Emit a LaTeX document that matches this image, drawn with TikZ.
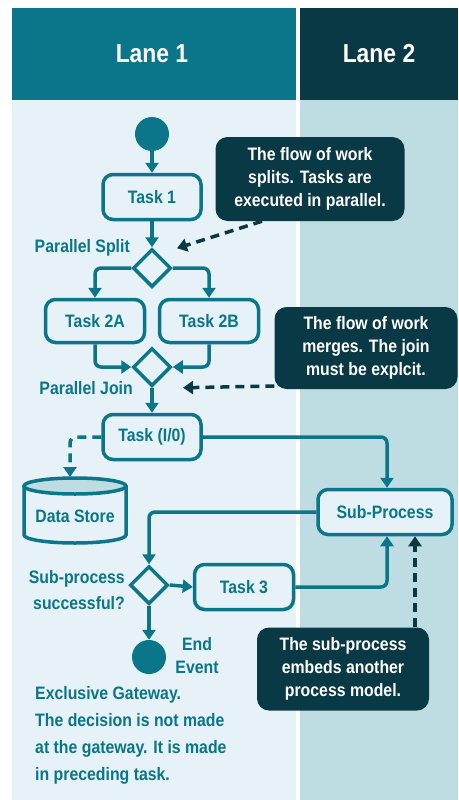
\documentclass[tikz,border=0pt]{standalone}
\usepackage{fontspec}
\setmainfont[FakeStretch=0.88]{Liberation Sans}
\usetikzlibrary{arrows.meta,shapes.geometric,calc}
\definecolor{tealc}{HTML}{0B7589}
\definecolor{darkc}{HTML}{0A3946}
\definecolor{lightbg}{HTML}{E6F2F8}
\definecolor{lanebg}{HTML}{BEDDE2}
\tikzset{
  lw/.style={line width=3.5pt},
  taskbox/.style={draw=tealc, lw, rounded corners=10pt, fill=lightbg, text=tealc,
    font=\bfseries\fontsize{18}{20}\selectfont, inner sep=0pt},
  gate/.style={diamond, aspect=1, draw=tealc, lw, fill=lightbg, minimum width=38pt, minimum height=38pt, inner sep=0pt},
  evt/.style={circle, fill=tealc, minimum size=34pt, inner sep=0pt},
  callout/.style={fill=darkc, rounded corners=12pt, text=white, align=center,
    font=\bfseries\fontsize{18}{23}\selectfont, inner sep=0pt},
  lbl/.style={text=tealc, font=\bfseries\fontsize{18}{26}\selectfont, inner sep=0pt},
  flow/.style={draw=tealc, lw, -{Triangle[length=10pt,width=13pt]}, rounded corners=6pt},
  dflow/.style={flow, dash pattern=on 9pt off 6pt},
  calarrow/.style={draw=darkc, lw, dash pattern=on 9pt off 6pt, -{Triangle[length=10pt,width=13pt]}},
  hdr/.style={text=white, font=\bfseries\fontsize{26}{28}\selectfont, inner sep=0pt}
}
\begin{document}
\begin{tikzpicture}[x=1pt,y=1pt]
\useasboundingbox (0,0) rectangle (458,-800);
\fill[white] (0,0) rectangle (458,-800);
% lanes
\fill[tealc] (12,-8) rectangle (296,-100);
\fill[darkc] (300,-8) rectangle (458,-100);
\fill[lightbg] (12,-100) rectangle (296,-800);
\fill[lanebg] (300,-100) rectangle (458,-800);
\node[hdr] (h1) at (152,-54) {Lane 1};
\node[hdr] (h2) at (379,-54) {Lane 2};
% nodes
\node[evt] (start) at (152,-134) {};
\node[taskbox, minimum width=98pt, minimum height=45pt] (t1) at (152,-197) {Task 1};
\node[gate] (split) at (152,-268) {};
\node[lbl, anchor=east] (lsplit) at (130,-248) {Parallel Split};
\node[taskbox, minimum width=99pt, minimum height=43pt] (t2a) at (95,-321) {Task 2A};
\node[taskbox, minimum width=99pt, minimum height=43pt] (t2b) at (209,-321) {Task 2B};
\node[gate] (join) at (152,-367) {};
\node[lbl, anchor=east] (ljoin) at (133,-388) {Parallel Join};
\node[taskbox, minimum width=98pt, minimum height=45pt] (tio) at (152,-437) {Task (I/0)};
% data store
\draw[tealc, lw, fill=lightbg] (24,-486) -- (24,-535) arc[start angle=180,end angle=360,x radius=51,y radius=8] -- (126,-486);
\draw[tealc, lw, fill=lanebg] (75,-486) ellipse [x radius=51, y radius=8];
\node[lbl] (ds) at (75,-516) {Data Store};
\coordinate (dstop) at (70,-477);
\node[taskbox, minimum width=134pt, minimum height=45pt] (sp) at (385,-512) {Sub-Process};
\node[gate] (dec) at (149,-585) {};
\node[lbl, anchor=east, align=right] (ldec) at (125,-590) {Sub-process\\successful?};
\node[taskbox, minimum width=99pt, minimum height=45pt] (t3) at (244,-587) {Task 3};
\node[evt] (end) at (149,-657) {};
\node[lbl, align=center, font=\bfseries\fontsize{18}{23}\selectfont] (lend) at (197,-656) {End\\Event};
\node[lbl, anchor=north west, align=left, font=\bfseries\fontsize{18}{27}\selectfont] (note) at (35,-686) {Exclusive Gateway.\\The decision is not made\\at the gateway. It is made\\in preceding task.};
% callouts
\node[callout, minimum width=189pt, minimum height=84pt] (c1) at (310,-179) {The flow of work\\splits. Tasks are\\executed in parallel.};
\node[callout, minimum width=183pt, minimum height=82pt] (c2) at (366,-348) {The flow of work\\merges. The join\\must be explcit.};
\node[callout, minimum width=172pt, minimum height=83pt] (c3) at (343,-669) {The sub-process\\embeds another\\process model.};
% flows
\draw[flow] (start) -- (t1);
\draw[flow] (t1) -- (split);
\draw[flow] (split.west) -| (t2a.north);
\draw[flow] (split.east) -| (t2b.north);
\draw[flow] (t2a.south) |- (join.west);
\draw[flow] (t2b.south) |- (join.east);
\draw[flow] (join) -- (tio);
\draw[dflow] (tio.west) -| (dstop);
\draw[flow] (tio.east) -| ([xshift=2pt]sp.north);
\draw[flow] (sp.west) -| (dec.north);
\draw[flow] (dec.east) -- (t3.west);
\draw[flow] (t3.east) -| ([xshift=2pt]sp.south);
\draw[flow] (dec.south) -- (end);
% callout arrows
\draw[calarrow] ([xshift=-48pt]c1.south) -- ([shift={(25pt,-1pt)}]split.north);
\draw[calarrow] ([yshift=-38pt]c2.west) -- ([xshift=31pt]join.south);
\draw[calarrow] ([xshift=72pt]c3.north) -- ([xshift=30pt]sp.south);
\end{tikzpicture}
\end{document}
